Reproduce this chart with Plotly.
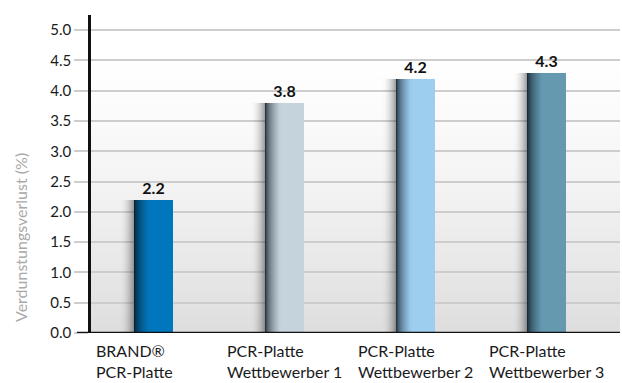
import plotly.graph_objects as go

# ---- data ----
categories = ["BRAND®<br>PCR-Platte", "PCR-Platte<br>Wettbewerber 1",
              "PCR-Platte<br>Wettbewerber 2", "PCR-Platte<br>Wettbewerber 3"]
values = [2.2, 3.8, 4.2, 4.3]
bar_colors = ["#0077bc", "#c5d3dc", "#9dcdef", "#6499b0"]
y_ticks = [0.0, 0.5, 1.0, 1.5, 2.0, 2.5, 3.0, 3.5, 4.0, 4.5, 5.0]
y_title = "Verdunstungsverlust (%)"

# ---- style ----
FONT = "Lato"
W, H = 622, 383
ML, MR, MT, MB = 91, 2, 15, 50
PW = W - ML - MR
PH = H - MT - MB
XR = [-0.48, 3.56]
PX = (XR[1] - XR[0]) / PW          # one pixel in category units
BW = 0.30
HALF = BW / 2
DARK = (8, 18, 28)


def hex2rgb(h):
    h = h.lstrip("#")
    return tuple(int(h[i:i + 2], 16) for i in (0, 2, 4))


def mix(c1, c2, t):
    return "rgb(%d,%d,%d)" % tuple(round(a + (b - a) * t) for a, b in zip(c1, c2))


fig = go.Figure()

# soft shadow to the left of each bar
S = 14
for k in range(S):
    a = 0.36 * (1 - k / S) ** 2
    fig.add_trace(go.Bar(
        x=categories, y=values, width=[PX * 1.05] * 4,
        offset=[-HALF - (k + 1) * PX] * 4,
        marker=dict(color="rgba(0,0,0,%.3f)" % a, line=dict(width=0)),
        hoverinfo="skip", showlegend=False))

# main bars with value labels
fig.add_trace(go.Bar(
    x=categories, y=values, width=[BW] * 4, offset=[-HALF] * 4,
    marker=dict(color=bar_colors, line=dict(width=0)),
    text=["%.1f" % v for v in values], textposition="outside",
    textfont=dict(family=FONT, size=16, color="#111111", weight="bold"),
    cliponaxis=False, hoverinfo="skip", showlegend=False))

# dark-to-colour gradient on the left part of each bar
G = 15
for k in range(G):
    t = ((k + 0.5) / G) ** 0.5
    cols = [mix(DARK, hex2rgb(c), t) for c in bar_colors]
    fig.add_trace(go.Bar(
        x=categories, y=values, width=[PX * 1.1] * 4,
        offset=[-HALF + k * PX] * 4,
        marker=dict(color=cols, line=dict(width=0)),
        hoverinfo="skip", showlegend=False))

# background vertical gradient
shapes = []
NB = 40
for j in range(NB):
    f = (j + 0.5) / NB          # 0 bottom -> 1 top
    g = 255 - 33 * max(0.0, 1 - f / 0.85) ** 1.3
    shapes.append(dict(type="rect", xref="paper", yref="paper",
                       x0=0, x1=1, y0=j / NB, y1=(j + 1) / NB + 0.002,
                       fillcolor="rgb(%d,%d,%d)" % (g, g, g),
                       line=dict(width=0), layer="below"))
# x-axis baseline (extends left like a tick)
shapes.append(dict(type="line", xref="paper", yref="y",
                   x0=-14 / PW, x1=1, y0=0, y1=0,
                   line=dict(color="#111111", width=2.5), layer="above"))

annotations = []
for c in categories:
    annotations.append(dict(
        x=c, y=0, xref="x", yref="y", text=c, showarrow=False,
        xanchor="left", yanchor="top", align="left",
        xshift=-60, yshift=-6,
        font=dict(family=FONT, size=16, color="#1a1a1a")))
annotations.append(dict(
    x=(20 - ML) / PW, y=(PH - (238 - MT)) / PH, xref="paper", yref="paper",
    text=y_title, textangle=-90, showarrow=False,
    xanchor="center", yanchor="middle",
    font=dict(family=FONT, size=16, color="#a9a9a9")))

fig.update_layout(
    width=W, height=H,
    margin=dict(l=ML, r=MR, t=MT, b=MB),
    barmode="overlay", bargap=0,
    paper_bgcolor="white", plot_bgcolor="white",
    shapes=shapes, annotations=annotations,
    showlegend=False,
    font=dict(family=FONT),
)
fig.update_xaxes(type="category", range=XR, showticklabels=False,
                 showgrid=False, showline=False, zeroline=False, ticks="")
fig.update_yaxes(range=[0, 5.25], tickvals=y_ticks,
                 ticktext=["%.1f" % v for v in y_ticks],
                 showgrid=True, gridcolor="#cdcdcd", gridwidth=1.5,
                 ticks="outside", ticklen=14, tickcolor="#cdcdcd", tickwidth=1.5,
                 showline=True, linecolor="#111111", linewidth=2.5,
                 zeroline=False,
                 tickfont=dict(family=FONT, size=15, color="#1a1a1a"))

fig.write_html("out.html",
               config={"displayModeBar": False},
               post_script="document.body.style.margin='0';"
                           "document.body.style.overflow='hidden';")
